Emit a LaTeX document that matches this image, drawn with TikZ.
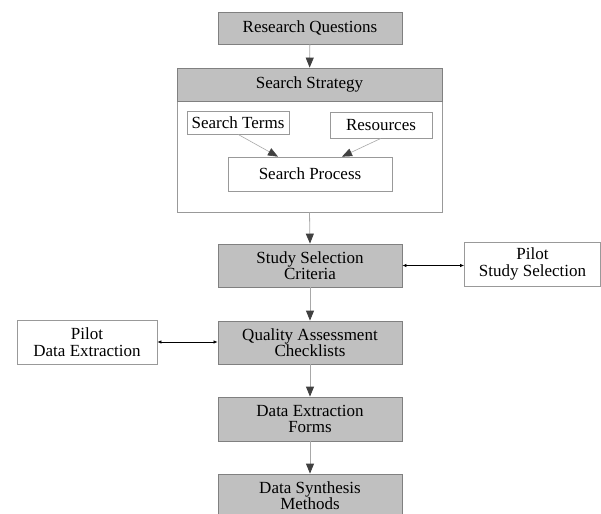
\documentclass[tikz,border=0pt]{standalone}
\usepackage{fontspec}
\setmainfont{Liberation Serif}
\usetikzlibrary{arrows.meta,positioning}
\definecolor{boxgray}{HTML}{C0C0C0}
\definecolor{edgegray}{HTML}{808080}
\definecolor{linegray}{HTML}{A8A8A8}
\definecolor{tipgray}{HTML}{404040}

\begin{document}
\begin{tikzpicture}[x=1pt,y=-1pt,
  boxmain/.style={draw=edgegray, fill=boxgray, line width=0.8pt, inner sep=0pt, align=center, font=\fontsize{17}{16.5}\selectfont},
  boxplain/.style={draw=edgegray!80, fill=white, line width=0.7pt, inner sep=0pt, align=center, font=\fontsize{17}{16.5}\selectfont},
  flowarrow/.style={draw=linegray, line width=0.8pt, -{Triangle[width=8pt,length=10pt,color=tipgray]}},
  bothway/.style={draw=black, line width=0.7pt, {Latex[length=4pt,width=3.5pt]}-{Latex[length=4pt,width=3.5pt]}},
]
% picture in pixel units, y running downward
\clip (0,0) rectangle (601,513);
\def\xc{310}\def\wm{184}

% main column
\node[boxmain, minimum width=\wm, minimum height=32] (rq) at (\xc,28) {Research Questions};
\node[boxplain, minimum width=265, minimum height=111] (ssbox) at (309.5,156.5) {};
\node[boxmain, minimum width=265, minimum height=33] (ss) at (309.5,84.5) {Search Strategy};

% inside the search strategy
\node[boxplain, minimum width=102, minimum height=23] (st) at (238,122.5) {Search Terms};
\node[boxplain, minimum width=102, minimum height=26] (res) at (381,125) {Resources};
\node[boxplain, minimum width=164, minimum height=34] (sp) at (\xc,174) {Search Process};

\node[boxmain, minimum width=\wm, minimum height=43] (scc) at (\xc,265.5) {Study Selection\\Criteria};
\node[boxmain, minimum width=\wm, minimum height=43] (qac) at (\xc,342.5) {Quality Assessment\\Checklists};
\node[boxmain, minimum width=\wm, minimum height=44] (def) at (\xc,419) {Data Extraction\\Forms};
\node[boxmain, minimum width=\wm, minimum height=43] (dsm) at (\xc,495.5) {Data Synthesis\\Methods};

% pilot boxes at the sides
\node[boxplain, minimum width=136, minimum height=44] (pss) at (532.5,264) {Pilot\\Study Selection};
\node[boxplain, minimum width=140, minimum height=44] (pde) at (87,342) {Pilot\\Data Extraction};

% connectors
\draw[flowarrow] (rq) -- (ss);
\draw[flowarrow, line width=0.6pt] (st.south) -- ([xshift=-32pt]sp.north);
\draw[flowarrow, line width=0.6pt] (res.south) -- ([xshift=32pt]sp.north);
\draw[flowarrow] (ssbox.south) -- (scc.north);
\draw[flowarrow] (scc) -- (qac);
\draw[flowarrow] (qac) -- (def);
\draw[flowarrow] (def) -- (dsm);
\draw[bothway] (scc.east) -- (scc.east -| pss.west);
\draw[bothway] (pde.east) -- (pde.east -| qac.west);
\end{tikzpicture}
\end{document}
